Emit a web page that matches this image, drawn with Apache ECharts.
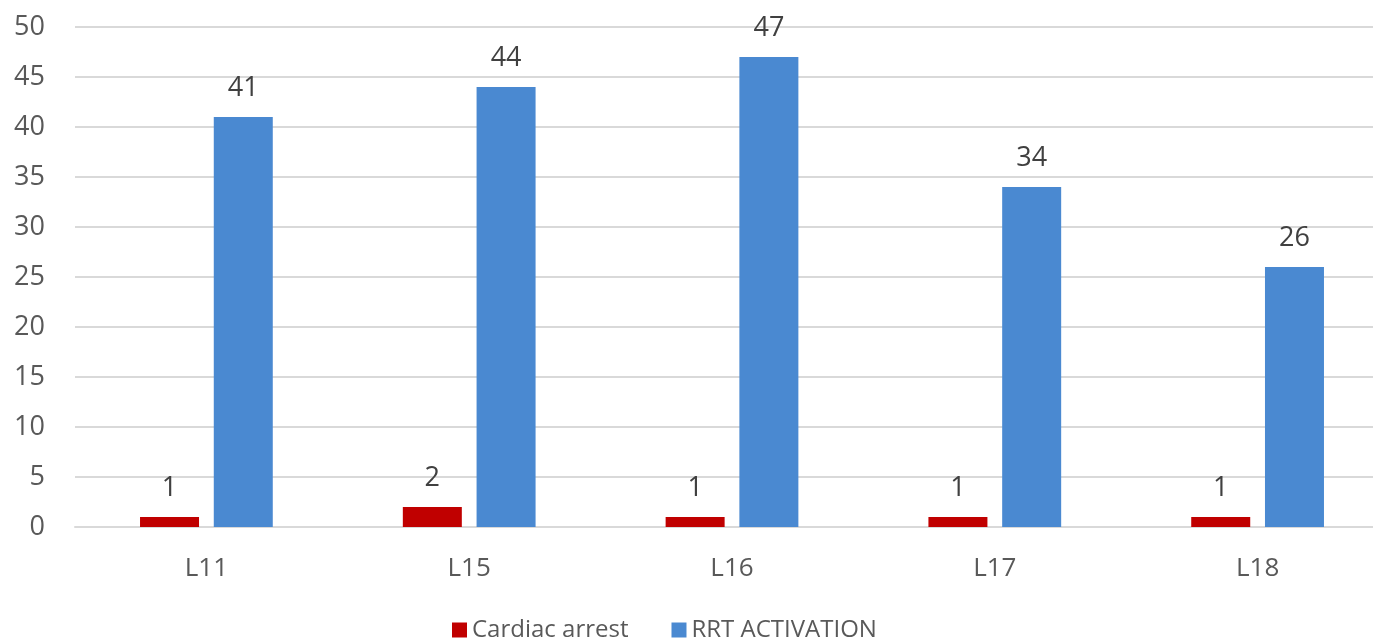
<!DOCTYPE html>
<html>
<head>
<meta charset="utf-8">
<script src="https://cdn.jsdelivr.net/npm/echarts@6/dist/echarts.min.js"></script>
<style>html,body{margin:0;padding:0;background:#fff;}#c{width:1373px;height:643px;}</style>
</head>
<body>
<div id="c"></div>
<script>
const categories = ['L11', 'L15', 'L16', 'L17', 'L18'];
const cardiacArrest = [1, 2, 1, 1, 1];
const rrtActivation = [41, 44, 47, 34, 26];
const seriesNames = ['Cardiac arrest', 'RRT ACTIVATION'];

const chart = echarts.init(document.getElementById('c'));
const font = '"Open Sans", "Liberation Sans", sans-serif';
const lbl = { show: true, position: 'top', distance: 15, color: '#404040', fontSize: 27, fontFamily: font };
chart.setOption({
  animation: false,
  grid: { left: 75, top: 27, width: 1314, height: 500, containLabel: false, outerBoundsMode: 'none' },
  legend: {
    data: seriesNames,
    left: 447, top: 613,
    itemWidth: 15, itemHeight: 15, itemGap: 43,
    icon: 'rect',
    textStyle: { color: '#595959', fontSize: 24, fontFamily: font }
  },
  xAxis: {
    type: 'category', data: categories,
    axisLine: { show: true, lineStyle: { color: '#d9d9d9', width: 2 } },
    axisTick: { show: false },
    axisLabel: { color: '#595959', fontSize: 26, fontFamily: font, margin: 29 }
  },
  yAxis: {
    type: 'value', min: 0, max: 50, interval: 5,
    axisLine: { show: false }, axisTick: { show: false },
    splitLine: { lineStyle: { color: '#d9d9d9', width: 2 } },
    axisLabel: { color: '#595959', fontSize: 27, fontFamily: font, margin: 30 }
  },
  series: [
    { name: seriesNames[0], type: 'bar', data: cardiacArrest, barWidth: 59, barGap: '25%',
      itemStyle: { color: '#C00000' }, label: lbl },
    { name: seriesNames[1], type: 'bar', data: rrtActivation, barWidth: 59,
      itemStyle: { color: '#4A89D1' }, label: lbl }
  ]
});
</script>
</body>
</html>
